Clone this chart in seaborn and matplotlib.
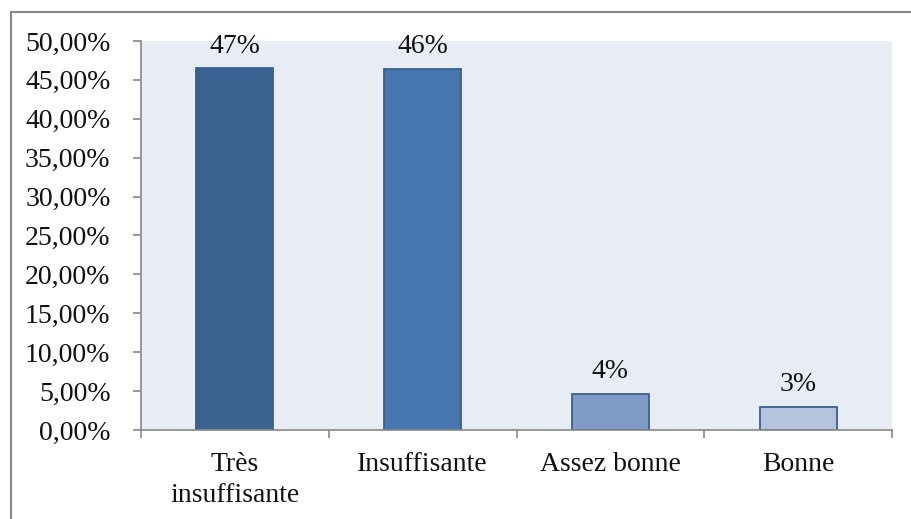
import matplotlib
matplotlib.use('Agg')
import matplotlib.pyplot as plt
import seaborn as sns
import pandas as pd
from matplotlib.lines import Line2D
from matplotlib.ticker import MultipleLocator, FuncFormatter, FixedLocator

categories = ['Très\ninsuffisante', 'Insuffisante', 'Assez bonne', 'Bonne']
values = [46.5, 46.4, 4.6, 3.0]
labels = ['47%', '46%', '4%', '3%']
colors = ['#3B6392', '#4877B0', '#7E9BC8', '#B4C3DE']

df = pd.DataFrame({'cat': categories, 'val': values})

sns.set_style('white')
plt.rcParams['font.family'] = ['Liberation Serif', 'DejaVu Serif']

W, H = 912, 519
fig = plt.figure(figsize=(W / 100, H / 100), dpi=100)
ax = fig.add_axes([141 / W, (H - 430) / H, (892 - 141) / W, (430 - 41) / H])
ax.set_facecolor('#E8ECF4')

sns.barplot(data=df, x='cat', y='val', hue='cat', palette=colors, legend=False,
            saturation=1, width=0.41, edgecolor='#3A5F8F', linewidth=1.3, ax=ax)

ax.set_xlim(-0.5, 3.5)
ax.set_ylim(0, 50)
ax.yaxis.set_major_locator(MultipleLocator(5))
ax.yaxis.set_major_formatter(FuncFormatter(lambda v, p: f'{v:.2f}%'.replace('.', ',')))

for i, (v, lab) in enumerate(zip(values, labels)):
    ax.annotate(lab, (i, v), xytext=(0, 7), textcoords='offset points',
                ha='center', va='bottom', fontsize=20, color='#111111')

ax.set_xlabel('')
ax.set_ylabel('')
ax.xaxis.set_minor_locator(FixedLocator([-0.5, 0.5, 1.5, 2.5, 3.5]))
ax.tick_params(axis='x', which='major', bottom=False, length=0, pad=16, labelsize=20,
               labelcolor='#111111')
ax.tick_params(axis='x', which='minor', bottom=True, length=6, width=1.2, color='#888888',
               direction='out')
ax.tick_params(axis='y', left=True, length=6, width=1.2, color='#888888', direction='out',
               labelsize=20, pad=16, labelcolor='#111111')
for lab in ax.get_xticklabels():
    lab.set_linespacing(1.3)

for s in ['top', 'right']:
    ax.spines[s].set_visible(False)
for s in ['left', 'bottom']:
    ax.spines[s].set_color('#888888')
    ax.spines[s].set_linewidth(1.2)

# outer chart border (left and top visible)
fig.add_artist(Line2D([11 / W, 11 / W], [0, 1 - 12 / H], color='#888888', lw=1.5))
fig.add_artist(Line2D([11 / W, 1], [1 - 12 / H, 1 - 12 / H], color='#888888', lw=1.5))

fig.savefig('out.png', dpi=100)
